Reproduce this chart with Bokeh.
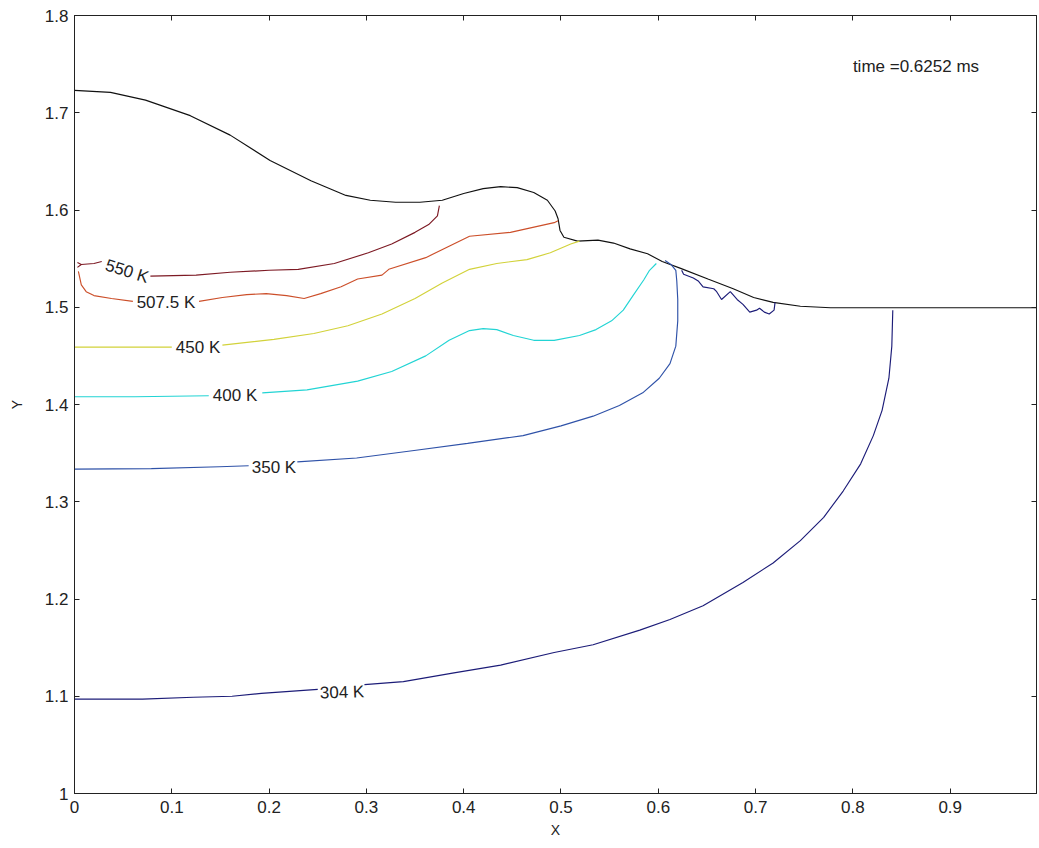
import numpy as np
from bokeh.plotting import figure
from bokeh.models import FixedTicker, CustomJSTickFormatter, LinearAxis, Label, ColumnDataSource
from bokeh.core.properties import value
from bokeh.embed import file_html
from bokeh.resources import INLINE

nan = np.nan

# ---- data ----
x_ticks = [0.0, 0.1, 0.2, 0.3, 0.4, 0.5, 0.6, 0.7, 0.8, 0.9]
y_ticks = [1.0, 1.1, 1.2, 1.3, 1.4, 1.5, 1.6, 1.7, 1.8]

boundary_x = [0.0, 0.037, 0.073, 0.119, 0.160, 0.201, 0.243, 0.279, 0.304, 0.330, 0.355, 0.378,
              0.400, 0.420, 0.438, 0.455, 0.472, 0.486, 0.494, 0.497, 0.499, 0.503, 0.517, 0.538,
              0.554, 0.571, 0.589, 0.604, 0.623, 0.651, 0.677, 0.698, 0.718, 0.746, 0.777, 0.80, 1.0]
boundary_y = [1.723, 1.721, 1.713, 1.697, 1.677, 1.651, 1.630, 1.615, 1.610, 1.608, 1.608, 1.610,
              1.617, 1.622, 1.624, 1.623, 1.618, 1.610, 1.599, 1.591, 1.579, 1.572, 1.568, 1.569,
              1.566, 1.560, 1.555, 1.547, 1.540, 1.529, 1.519, 1.510, 1.505, 1.501, 1.4995, 1.4995, 1.4995]

c550_x = [0.003, 0.007, 0.003, nan, 0.007, 0.020, 0.028, nan, 0.078, 0.125, 0.160, 0.200, 0.230,
          0.267, 0.302, 0.326, 0.350, 0.364, 0.373, 0.375]
c550_y = [1.546, 1.544, 1.541, nan, 1.544, 1.545, 1.547, nan, 1.532, 1.533, 1.536, 1.538, 1.539,
          1.545, 1.556, 1.565, 1.577, 1.585, 1.594, 1.6045]

c507_x = [0.004, 0.007, 0.012, 0.020, 0.038, 0.060, nan, 0.128, 0.152, 0.177, 0.197, 0.218, 0.236,
          0.253, 0.274, 0.291, 0.316, 0.323, 0.361, 0.406, 0.448, 0.493, 0.497]
c507_y = [1.537, 1.523, 1.516, 1.512, 1.509, 1.506, nan, 1.506, 1.510, 1.513, 1.514, 1.512, 1.509,
          1.514, 1.521, 1.529, 1.533, 1.539, 1.551, 1.573, 1.577, 1.587, 1.589]

c450_x = [0.0, 0.100, nan, 0.152, 0.205, 0.246, 0.281, 0.316, 0.350, 0.378, 0.406, 0.434, 0.465,
          0.489, 0.510, 0.519]
c450_y = [1.459, 1.459, nan, 1.461, 1.467, 1.473, 1.481, 1.493, 1.509, 1.525, 1.539, 1.545, 1.549,
          1.556, 1.565, 1.568]

c400_x = [0.0, 0.062, 0.138, nan, 0.193, 0.239, 0.291, 0.326, 0.361, 0.385, 0.406, 0.420, 0.434,
          0.451, 0.472, 0.493, 0.519, 0.536, 0.552, 0.564, 0.574, 0.585, 0.591, 0.598]
c400_y = [1.408, 1.408, 1.409, nan, 1.412, 1.415, 1.424, 1.434, 1.450, 1.466, 1.476, 1.478, 1.477,
          1.471, 1.466, 1.466, 1.471, 1.477, 1.486, 1.497, 1.512, 1.528, 1.538, 1.545]

c350_x = [0.0, 0.079, 0.149, 0.179, nan, 0.229, 0.290, 0.351, 0.404, 0.461, 0.500, 0.533, 0.560,
          0.584, 0.601, 0.612, 0.618, 0.620, 0.620, 0.619, 0.618, 0.613, 0.607]
c350_y = [1.3335, 1.334, 1.336, 1.337, nan, 1.341, 1.345, 1.353, 1.360, 1.368, 1.378, 1.388, 1.399,
          1.412, 1.427, 1.442, 1.460, 1.486, 1.508, 1.527, 1.538, 1.544, 1.548]

c304_x = [0.0, 0.070, 0.122, 0.162, 0.192, 0.250, nan, 0.298, 0.338, 0.390, 0.438, 0.493, 0.533,
          0.581, 0.612, 0.646, 0.687, 0.718, 0.746, 0.770, 0.790, 0.808, 0.821, 0.830, 0.837,
          0.840, 0.841, nan,
          0.624, 0.626, 0.636, 0.641, 0.646, 0.657, 0.660, 0.665, 0.674, 0.681, 0.687, 0.694,
          0.701, 0.704, 0.709, 0.714, 0.719, 0.720]
c304_y = [1.097, 1.097, 1.099, 1.100, 1.103, 1.107, nan, 1.112, 1.115, 1.124, 1.132, 1.145, 1.153,
          1.168, 1.179, 1.193, 1.217, 1.237, 1.260, 1.284, 1.311, 1.339, 1.368, 1.394, 1.427,
          1.460, 1.497, nan,
          1.538, 1.534, 1.530, 1.527, 1.521, 1.519, 1.516, 1.508, 1.516, 1.508, 1.503, 1.495,
          1.497, 1.499, 1.495, 1.493, 1.497, 1.505]

label_text = ["550 K", "507.5 K", "450 K", "400 K", "350 K", "304 K"]
label_x = [0.054, 0.094, 0.127, 0.165, 0.205, 0.275]
label_y = [1.537, 1.505, 1.459, 1.409, 1.3355, 1.104]
label_angle = [-0.30, 0.0, 0.0, 0.0, 0.0, 0.03]

time_text = "time =0.6252 ms"

# ---- figure ----
FONT = "Liberation Sans"
p = figure(width=1038, height=840, x_range=(0, 0.9887), y_range=(1.0, 1.8),
           output_backend="svg", toolbar_location=None,
           min_border_left=74, min_border_top=15, min_border_right=2, min_border_bottom=47,
           x_axis_label="X", y_axis_label="Y")
p.grid.visible = False
p.outline_line_color = "#222222"
p.background_fill_color = "white"
p.border_fill_color = "white"

fmt_code = "return Number(tick.toFixed(2)).toString();"
for ax, ticks in ((p.xaxis[0], x_ticks), (p.yaxis[0], y_ticks)):
    ax.ticker = FixedTicker(ticks=ticks)
    ax.formatter = CustomJSTickFormatter(code=fmt_code)
    ax.major_tick_in = 5
    ax.major_tick_out = 0
    ax.minor_tick_line_color = None
    ax.axis_line_color = "#222222"
    ax.major_tick_line_color = "#222222"
    ax.major_label_text_font = FONT
    ax.major_label_text_font_size = "17px"
    ax.major_label_text_color = "#222222"
    ax.axis_label_text_font = FONT
    ax.axis_label_text_font_size = "14px"
    ax.axis_label_text_font_style = "normal"
    ax.axis_label_text_color = "#222222"
p.xaxis.major_label_standoff = 7
p.yaxis.major_label_standoff = 6
p.xaxis.axis_label_standoff = 6
p.yaxis.axis_label_standoff = 17

for loc, ticks in (("above", x_ticks), ("right", y_ticks)):
    ax = LinearAxis(ticker=FixedTicker(ticks=ticks),
                    formatter=CustomJSTickFormatter(code="return '';"),
                    major_tick_in=5, major_tick_out=0, minor_tick_line_color=None,
                    major_label_text_font_size="0px", major_label_standoff=0,
                    axis_line_color="#222222", major_tick_line_color="#222222")
    p.add_layout(ax, loc)

LW = 1.15
p.line(boundary_x, boundary_y, line_color="#111111", line_width=LW)
p.line(c550_x, c550_y, line_color="#7d1a24", line_width=LW)
p.line(c507_x, c507_y, line_color="#cc4f2a", line_width=LW)
p.line(c450_x, c450_y, line_color="#d2d23a", line_width=LW)
p.line(c400_x, c400_y, line_color="#22d4d4", line_width=LW)
p.line(c350_x, c350_y, line_color="#2f52a8", line_width=LW)
p.line(c304_x, c304_y, line_color="#1c1c78", line_width=LW)

src = ColumnDataSource(dict(x=label_x, y=label_y, text=label_text, angle=label_angle))
p.text(x="x", y="y", text="text", angle="angle", source=src,
       text_font=value(FONT), text_font_size="17px", text_color="#222222",
       text_align="center", text_baseline="middle")

p.add_layout(Label(x=0.80, y=1.7475, text=time_text, text_font=FONT, text_font_size="17px",
                   text_color="#222222", text_align="left", text_baseline="middle"))

open("out.html", "w").write(file_html(p, INLINE))
